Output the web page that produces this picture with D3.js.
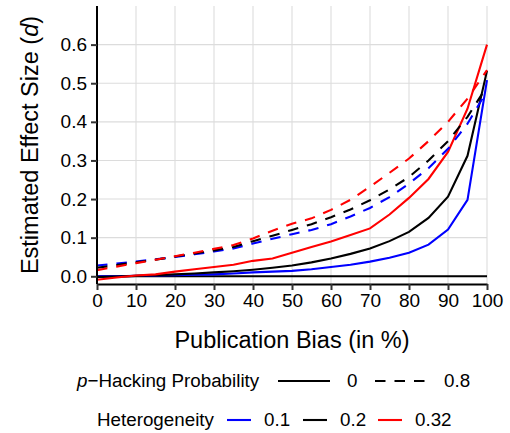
<!DOCTYPE html>
<html>
<head>
<meta charset="utf-8">
<script src="https://cdn.jsdelivr.net/npm/d3@7"></script>
<style>
	body { margin: 0; background: #ffffff; }
	text { font-family: "Liberation Sans", Arial, sans-serif; fill: #000000; }
</style>
</head>
<body>
<div id="chart"></div>
<script>

// Publication bias in %, one point every 5
var bias = [ 0, 5, 10, 15, 20, 25, 30, 35, 40, 45, 50, 55, 60, 65, 70, 75, 80, 85, 90, 95, 100 ];

// p-hacking probability 0 (solid)
var het01_p0  = [ 0.000, 0.000, 0.001, 0.002, 0.003, 0.004, 0.005, 0.007, 0.010, 0.012, 0.014, 0.018, 0.024, 0.030, 0.038, 0.048, 0.061, 0.082, 0.121, 0.198, 0.508 ];
var het02_p0  = [ -0.002, -0.001, 0.001, 0.003, 0.005, 0.007, 0.010, 0.013, 0.017, 0.022, 0.028, 0.036, 0.046, 0.058, 0.072, 0.091, 0.115, 0.151, 0.206, 0.312, 0.532 ];
var het032_p0 = [ -0.009, -0.003, 0.002, 0.005, 0.012, 0.018, 0.024, 0.030, 0.040, 0.046, 0.061, 0.076, 0.090, 0.107, 0.124, 0.160, 0.203, 0.252, 0.322, 0.434, 0.600 ];

// p-hacking probability 0.8 (dashed)
var het01_p08  = [ 0.028, 0.033, 0.038, 0.044, 0.050, 0.057, 0.064, 0.072, 0.085, 0.097, 0.109, 0.120, 0.135, 0.155, 0.177, 0.205, 0.240, 0.280, 0.330, 0.395, 0.480 ];
var het02_p08  = [ 0.022, 0.029, 0.036, 0.043, 0.051, 0.059, 0.067, 0.076, 0.091, 0.105, 0.120, 0.135, 0.153, 0.173, 0.197, 0.225, 0.257, 0.300, 0.350, 0.413, 0.492 ];
var het032_p08 = [ 0.016, 0.025, 0.034, 0.043, 0.052, 0.061, 0.071, 0.081, 0.098, 0.118, 0.136, 0.150, 0.172, 0.198, 0.232, 0.268, 0.305, 0.350, 0.400, 0.460, 0.534 ];

var xTicks = [ 0, 10, 20, 30, 40, 50, 60, 70, 80, 90, 100 ];
var yTicks = [ 0.0, 0.1, 0.2, 0.3, 0.4, 0.5, 0.6 ];

var hetLevels = [ "0.1", "0.2", "0.32" ];
var hackLevels = [ "0", "0.8" ];

var series = [
	{ het: "0.1",  hack: "0",   values: het01_p0 },
	{ het: "0.2",  hack: "0",   values: het02_p0 },
	{ het: "0.32", hack: "0",   values: het032_p0 },
	{ het: "0.1",  hack: "0.8", values: het01_p08 },
	{ het: "0.2",  hack: "0.8", values: het02_p08 },
	{ het: "0.32", hack: "0.8", values: het032_p08 }
];

var width = 510;
var height = 433;

var margin = { top: 6, left: 97, right: 23, bottom: 149 };
var size = {
	width: width - margin.left - margin.right,
	height: height - margin.top - margin.bottom
};

var colour = d3.scaleOrdinal()
	.domain( hetLevels )
	.range( [ "#0000ff", "#000000", "#ff0000" ] );

var dash = d3.scaleOrdinal()
	.domain( hackLevels )
	.range( [ null, "10.5,9" ] );

var scale = {
	x: d3.scaleLinear().domain( [ 0, 100 ] ).range( [ 0, size.width ] ),
	y: d3.scaleLinear().domain( [ -0.02, 0.7 ] ).range( [ size.height, 0 ] )
};

var svg = d3.select( "#chart" ).append( "svg" )
	.attr( "width", width )
	.attr( "height", height );

var root = svg.append( "g" )
	.attr( "transform", "translate(" + margin.left + "," + margin.top + ")" );

// Grid
root.append( "g" )
	.selectAll( "line" )
	.data( xTicks )
	.enter()
	.append( "line" )
	.attr( "x1", scale.x ).attr( "x2", scale.x )
	.attr( "y1", 0 ).attr( "y2", size.height )
	.attr( "stroke", "#dcdcdc" )
	.attr( "stroke-width", 1.1 );

root.append( "g" )
	.selectAll( "line" )
	.data( yTicks )
	.enter()
	.append( "line" )
	.attr( "x1", 0 ).attr( "x2", size.width )
	.attr( "y1", scale.y ).attr( "y2", scale.y )
	.attr( "stroke", "#dcdcdc" )
	.attr( "stroke-width", 1.1 );

// Zero reference line
root.append( "line" )
	.attr( "x1", 0 ).attr( "x2", size.width )
	.attr( "y1", scale.y( 0 ) ).attr( "y2", scale.y( 0 ) )
	.attr( "stroke", "#000000" )
	.attr( "stroke-width", 2 );

// Curves
var line = d3.line()
	.x( function( d, i ) { return scale.x( bias[ i ] ); } )
	.y( function( d ) { return scale.y( d ); } );

root.append( "g" )
	.selectAll( "path" )
	.data( series )
	.enter()
	.append( "path" )
	.attr( "d", function( s ) { return line( s.values ); } )
	.attr( "fill", "none" )
	.attr( "stroke", function( s ) { return colour( s.het ); } )
	.attr( "stroke-width", 2.1 )
	.attr( "stroke-dasharray", function( s ) { return dash( s.hack ); } );

// Axes
var xAxis = root.append( "g" )
	.attr( "transform", "translate(0," + size.height + ")" )
	.call( d3.axisBottom( scale.x ).tickValues( xTicks ).tickSize( 6 ).tickPadding( 4 ).tickSizeOuter( 0 ) );

var yAxis = root.append( "g" )
	.call( d3.axisLeft( scale.y ).tickValues( yTicks ).tickFormat( d3.format( ".1f" ) ).tickSize( 6 ).tickPadding( 4 ).tickSizeOuter( 0 ) );

[ xAxis, yAxis ].forEach( function( axis )
{
	axis.select( ".domain" ).attr( "stroke", "#000000" ).attr( "stroke-width", 2 );
	axis.selectAll( ".tick line" ).attr( "stroke", "#333333" ).attr( "stroke-width", 2 );
	axis.selectAll( ".tick text" )
		.attr( "font-family", "Liberation Sans, Arial, sans-serif" )
		.attr( "font-size", 19 )
		.attr( "fill", "#000000" );
} );

yAxis.select( ".domain" ).attr( "d", "M0," + size.height + "V0" );

// Axis titles
svg.append( "text" )
	.attr( "x", margin.left + size.width / 2 )
	.attr( "y", 348 )
	.attr( "text-anchor", "middle" )
	.attr( "font-size", 23.5 )
	.text( "Publication Bias (in %)" );

var yTitle = svg.append( "text" )
	.attr( "transform", "translate(37.5," + ( margin.top + size.height / 2 ) + ") rotate(-90)" )
	.attr( "text-anchor", "middle" )
	.attr( "font-size", 23.5 );
yTitle.append( "tspan" ).text( "Estimated Effect Size (" );
yTitle.append( "tspan" ).attr( "font-style", "italic" ).text( "d" );
yTitle.append( "tspan" ).text( ")" );

// Legend: p-hacking probability
var legend1 = svg.append( "g" );
var l1Title = legend1.append( "text" )
	.attr( "x", 77 )
	.attr( "y", 387 )
	.attr( "font-size", 18.8 );
l1Title.append( "tspan" ).attr( "font-style", "italic" ).text( "p" );
l1Title.append( "tspan" ).text( "\u2212Hacking Probability" );

var l1x = [ 278, 375 ];
hackLevels.forEach( function( level, i )
{
	legend1.append( "line" )
		.attr( "x1", l1x[ i ] ).attr( "x2", l1x[ i ] + 52 )
		.attr( "y1", 381 ).attr( "y2", 381 )
		.attr( "stroke", "#000000" )
		.attr( "stroke-width", 2.1 )
		.attr( "stroke-dasharray", dash( level ) );
	legend1.append( "text" )
		.attr( "x", l1x[ i ] + 69 )
		.attr( "y", 387 )
		.attr( "font-size", 18.8 )
		.text( level );
} );

// Legend: heterogeneity
var legend2 = svg.append( "g" );
legend2.append( "text" )
	.attr( "x", 97 )
	.attr( "y", 426 )
	.attr( "font-size", 18.8 )
	.text( "Heterogeneity" );

var l2x = [ 227, 303, 378 ];
hetLevels.forEach( function( level, i )
{
	legend2.append( "line" )
		.attr( "x1", l2x[ i ] ).attr( "x2", l2x[ i ] + 24 )
		.attr( "y1", 420 ).attr( "y2", 420 )
		.attr( "stroke", colour( level ) )
		.attr( "stroke-width", 2.1 );
	legend2.append( "text" )
		.attr( "x", l2x[ i ] + 37 )
		.attr( "y", 426 )
		.attr( "font-size", 18.8 )
		.text( level );
} );

</script>
</body>
</html>
